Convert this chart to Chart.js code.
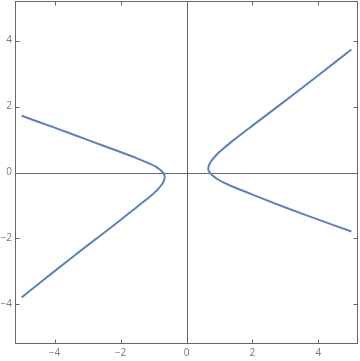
<!DOCTYPE html>
<html>
<head>
<meta charset="utf-8">
<script src="https://cdn.jsdelivr.net/npm/chart.js@4.4.1/dist/chart.umd.min.js"></script>
<style>
html,body{margin:0;padding:0;background:#fff;}
#wrap{width:360px;height:361px;}
</style>
</head>
<body>
<div id="wrap"><canvas id="c" width="360" height="361"></canvas></div>
<script>
// Right branch (bottom-right end -> vertex -> top-right end)
const rightX = [5.0, 4.0, 3.0, 2.0, 1.5, 1.1, 0.92, 0.80, 0.72, 0.675, 0.66, 0.67, 0.70, 0.76, 0.85, 0.97, 1.12, 1.4, 2.0, 3.0, 4.0, 5.0];
const rightY = [-1.79, -1.43, -1.06, -0.67, -0.47, -0.29, -0.19, -0.10, -0.02, 0.05, 0.11, 0.18, 0.26, 0.36, 0.47, 0.60, 0.73, 0.96, 1.42, 2.18, 2.95, 3.73];
// Left branch (top-left end -> vertex -> bottom-left end)
const leftX = [-5.0, -4.0, -3.0, -2.0, -1.5, -1.1, -0.92, -0.80, -0.72, -0.675, -0.66, -0.67, -0.70, -0.76, -0.85, -0.97, -1.12, -1.4, -2.0, -3.0, -4.0, -5.0];
const leftY = [1.72, 1.36, 0.99, 0.62, 0.43, 0.26, 0.17, 0.08, 0.00, -0.07, -0.13, -0.20, -0.28, -0.38, -0.49, -0.61, -0.74, -0.96, -1.44, -2.21, -2.99, -3.79];
// Axis settings
const axisMin = -5.2;
const axisMax = 5.2;
const majorTicks = [-4, -2, 0, 2, 4];
const minorStep = 0.5;

const curveColor = '#5E81B5';
const frameColor = '#666666';
const labelColor = '#777777';

function pts(xs, ys){ return xs.map((x,i)=>({x:x, y:ys[i]})); }
function fmt(v){
  if (!majorTicks.includes(v)) return null;
  return v < 0 ? '\u2212' + (-v) : String(v);
}
function isStep(v){ return Math.abs(v/minorStep - Math.round(v/minorStep)) < 1e-6; }

const framePlugin = {
  id: 'frame',
  beforeDatasetsDraw(chart){
    const {ctx, chartArea:a, scales:{x, y}} = chart;
    ctx.save();
    ctx.strokeStyle = frameColor;
    ctx.lineWidth = 1;
    const x0 = Math.round(x.getPixelForValue(0)) + 0.5;
    const y0 = Math.round(y.getPixelForValue(0)) + 0.5;
    ctx.beginPath();
    ctx.moveTo(x0, a.top); ctx.lineTo(x0, a.bottom);
    ctx.moveTo(a.left, y0); ctx.lineTo(a.right, y0);
    ctx.stroke();
    ctx.restore();
  },
  afterDraw(chart){
    const {ctx, chartArea:a, scales:{x, y}} = chart;
    ctx.save();
    ctx.strokeStyle = frameColor;
    ctx.lineWidth = 1;
    ctx.strokeRect(Math.round(a.left)+0.5, Math.round(a.top)+0.5, Math.round(a.right-a.left)-1, Math.round(a.bottom-a.top)-1);
    ctx.beginPath();
    x.ticks.forEach(t => {
      const v = t.value;
      if (!isStep(v) || v <= axisMin || v >= axisMax) return;
      const p = Math.round(x.getPixelForValue(v)) + 0.5;
      const len = majorTicks.includes(v) ? 4.5 : 2.5;
      ctx.moveTo(p, a.bottom); ctx.lineTo(p, a.bottom - len);
      ctx.moveTo(p, a.top); ctx.lineTo(p, a.top + len);
    });
    y.ticks.forEach(t => {
      const v = t.value;
      if (!isStep(v) || v <= axisMin || v >= axisMax) return;
      const p = Math.round(y.getPixelForValue(v)) + 0.5;
      const len = majorTicks.includes(v) ? 4.5 : 2.5;
      ctx.moveTo(a.left, p); ctx.lineTo(a.left + len, p);
      ctx.moveTo(a.right, p); ctx.lineTo(a.right - len, p);
    });
    ctx.stroke();
    ctx.restore();
  }
};

const tickFont = {family: "'Open Sans', 'DejaVu Sans', sans-serif", size: 10};

new Chart(document.getElementById('c'), {
  type: 'scatter',
  data: {
    datasets: [
      {data: pts(rightX, rightY), showLine: true, borderColor: curveColor, borderWidth: 2, pointRadius: 0, tension: 0.3, fill: false},
      {data: pts(leftX, leftY), showLine: true, borderColor: curveColor, borderWidth: 2, pointRadius: 0, tension: 0.3, fill: false}
    ]
  },
  options: {
    responsive: false,
    animation: false,
    events: [],
    layout: {padding: {top: 1, right: 2, left: 0, bottom: 0}},
    plugins: {legend: {display: false}, tooltip: {enabled: false}},
    scales: {
      x: {
        type: 'linear', min: axisMin, max: axisMax,
        grid: {display: false, drawTicks: false}, border: {display: false},
        ticks: {stepSize: minorStep, autoSkip: false, maxRotation: 0, includeBounds: false,
                padding: 3, color: labelColor, font: tickFont, callback: fmt},
        afterFit(s){ s.height = 17; s.paddingLeft = 0; s.paddingRight = 0; }
      },
      y: {
        type: 'linear', min: axisMin, max: axisMax,
        grid: {display: false, drawTicks: false}, border: {display: false},
        ticks: {stepSize: minorStep, autoSkip: false, includeBounds: false,
                padding: 3, color: labelColor, font: tickFont, callback: fmt},
        afterFit(s){ s.width = 15; s.paddingTop = 0; s.paddingBottom = 0; }
      }
    }
  },
  plugins: [framePlugin]
});
</script>
</body>
</html>
